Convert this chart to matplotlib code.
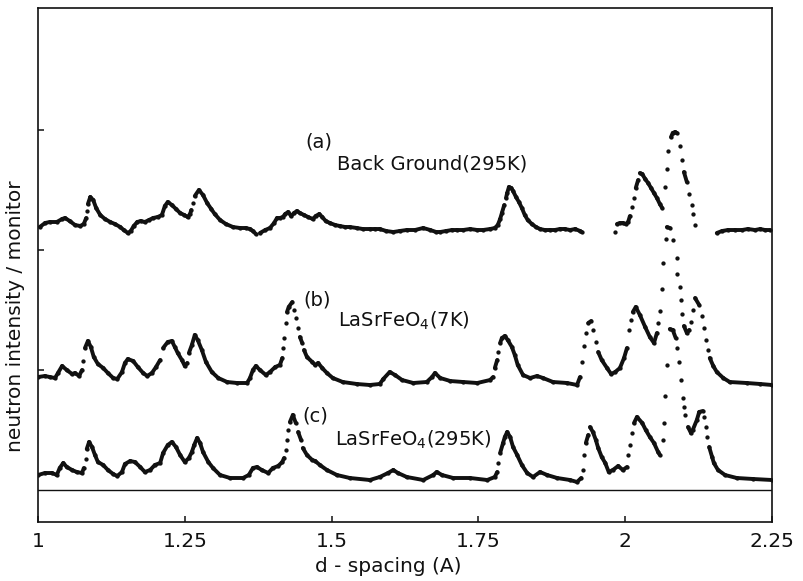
import numpy as np
import matplotlib
matplotlib.use("Agg")
import matplotlib.pyplot as plt
from matplotlib.collections import LineCollection

nan = float("nan")

# ---------------- data (d-spacing in A, intensity in arbitrary units incl. offset) -------------
# (a) Back Ground (295K)  -- NaN marks missing data
d_a = [1.003, 1.012, 1.020, 1.032, 1.041, 1.046, 1.054, 1.063, 1.072, 1.078, 1.082, 1.083, 1.085, 1.089,
       1.094, 1.099, 1.106, 1.114, 1.123, 1.131, 1.140, 1.146, 1.153, 1.158, 1.163, 1.169, 1.175, 1.182,
       1.189, 1.196, 1.204, 1.211, 1.216, 1.221, 1.228, 1.235, 1.242, 1.249, 1.255, 1.259, 1.261, 1.264,
       1.267, 1.274, 1.281, 1.288, 1.295, 1.301, 1.310, 1.320, 1.332, 1.344, 1.354, 1.361, 1.366, 1.371,
       nan,
       1.378, 1.387, 1.395, 1.402, 1.407, 1.412, 1.417, 1.421, 1.426, 1.431, 1.436, 1.441, 1.446, 1.453,
       1.460, 1.468, 1.473, 1.479, 1.484, 1.490, 1.497, 1.506, 1.514, 1.523, 1.531, 1.543, 1.553, 1.565,
       1.574, 1.582, 1.593, 1.605, 1.616, 1.628, 1.642, 1.656, 1.668, 1.678, 1.685, 1.695, 1.705, 1.714,
       1.724, 1.736, 1.748, 1.758, 1.770, 1.778, 1.783, 1.787, 1.790, 1.794, 1.797, 1.799, 1.802, 1.806,
       1.809, 1.814, 1.819, 1.824, 1.829, 1.834, 1.841, 1.848, 1.855, 1.863, 1.872, 1.880, 1.889, 1.897,
       1.906, 1.915, 1.923, 1.926,
       nan,
       1.983, 1.986, 1.991, 1.996, 2.001, 2.005, 2.008, 2.012, 2.015, 2.018, 2.022, 2.025, 2.029, 2.034,
       2.039, 2.044, 2.049, 2.054, 2.059, 2.063, 2.068, 2.071, 2.073, 2.078, 2.081, 2.085, 2.088, 2.093,
       2.097, 2.100, 2.105, 2.109, 2.114, 2.115, 2.119,
       nan,
       2.156, 2.165, 2.175, 2.187, 2.199, 2.209, 2.221, 2.230, 2.238, 2.247]
i_a = [263, 267, 268, 268, 271, 272, 269, 265, 264, 266, 272, 279, 286, 293,
       290, 282, 275, 271, 268, 266, 263, 260, 257, 259, 264, 268, 269, 268,
       270, 272, 273, 275, 284, 288, 285, 281, 277, 275, 273, 276, 280, 287,
       294, 300, 295, 287, 281, 276, 270, 266, 263, 262, 262, 261, 259, 256,
       nan,
       257, 260, 262, 267, 272, 272, 273, 276, 278, 274, 277, 279, 277, 275,
       273, 271, 274, 276, 273, 269, 267, 265, 264, 263, 263, 262, 261, 261,
       261, 261, 259, 258, 259, 260, 260, 262, 260, 258, 258, 259, 260, 260,
       260, 261, 260, 260, 261, 262, 265, 271, 277, 285, 292, 297, 303, 302,
       299, 293, 288, 282, 275, 270, 266, 263, 261, 260, 260, 260, 261, 261,
       260, 261, 259, 258,
       nan,
       258, 266, 267, 267, 266, 268, 274, 283, 292, 302, 310, 317, 316, 311,
       307, 302, 297, 292, 286, 282, 303, 321, 339, 353, 357, 358, 357, 344,
       330, 318, 308, 296, 285, 276, 265,
       nan,
       257, 259, 260, 260, 260, 261, 260, 261, 260, 260]

# (b) LaSrFeO4 (7K)
d_b = [1.000, 1.012, 1.020, 1.029, 1.034, 1.041, 1.049, 1.058, 1.063, 1.070, 1.075, 1.077, 1.080, 1.085,
       1.090, 1.095, 1.102, 1.111, 1.119, 1.128, 1.135, 1.143, 1.148, 1.153, 1.162, 1.170, 1.179, 1.186,
       1.194, 1.201, 1.208, 1.213, 1.221, 1.228, 1.233, 1.238, 1.245, 1.250, 1.254, 1.257, 1.262, 1.267,
       1.272, 1.279, 1.286, 1.296, 1.307, 1.322, 1.339, 1.356, 1.361, 1.366, 1.371, 1.378, 1.388, 1.395,
       1.404, 1.412, 1.416, 1.417, 1.419, 1.422, 1.424, 1.427, 1.433, 1.436, 1.439, 1.443, 1.446, 1.450,
       1.453, 1.458, 1.467, 1.472, 1.477, 1.484, 1.492, 1.502, 1.519, 1.543, 1.565, 1.582, 1.588, 1.599,
       1.608, 1.620, 1.639, 1.662, 1.671, 1.676, 1.685, 1.702, 1.724, 1.748, 1.770, 1.775, 1.778, 1.782,
       1.783, 1.787, 1.790, 1.795, 1.800, 1.807, 1.812, 1.817, 1.826, 1.838, 1.850, 1.860, 1.877, 1.901,
       1.918, 1.923, 1.926, 1.930, 1.933, 1.937, 1.942, 1.945, 1.950, 1.954, 1.960, 1.969, 1.976, 1.983,
       1.991, 1.998, 2.003, 2.006, 2.010, 2.013, 2.018, 2.025, 2.034, 2.042, 2.049, 2.054, 2.056, 2.059,
       2.063, 2.064, 2.070, 2.071, 2.076, 2.081, 2.088, 2.089, 2.093, 2.095, 2.097, 2.100, 2.105, 2.109,
       2.112, 2.115, 2.119, 2.126, 2.131, 2.134, 2.138, 2.141, 2.144, 2.150, 2.156, 2.167, 2.178, 2.207,
       2.230, 2.250]
i_b = [113, 114, 113, 112, 117, 124, 120, 116, 117, 114, 120, 129, 142, 149,
       143, 133, 126, 122, 117, 112, 111, 118, 127, 131, 129, 123, 117, 114,
       117, 123, 130, 142, 148, 149, 143, 137, 130, 124, 127, 137, 145, 155,
       150, 140, 128, 118, 112, 108, 107, 107, 112, 120, 124, 120, 115, 118,
       123, 125, 132, 142, 152, 167, 178, 183, 188, 180, 172, 162, 153, 147,
       140, 133, 128, 125, 127, 122, 117, 112, 108, 106, 105, 106, 111, 118,
       115, 110, 107, 108, 113, 117, 112, 109, 108, 107, 110, 113, 122, 130,
       138, 147, 152, 154, 150, 143, 135, 125, 115, 112, 114, 112, 108, 107,
       105, 113, 128, 144, 157, 167, 169, 160, 148, 138, 130, 122, 116, 118,
       122, 132, 142, 160, 170, 178, 183, 175, 163, 153, 147, 157, 167, 179,
       201, 227, 251, 263, 262, 250, 232, 216, 203, 190, 176, 164, 157, 160,
       168, 180, 192, 185, 174, 162, 150, 140, 132, 124, 118, 112, 108, 107,
       106, 105]

# (c) LaSrFeO4 (295K)
d_c = [1.000, 1.012, 1.024, 1.032, 1.037, 1.043, 1.049, 1.058, 1.066, 1.075, 1.078, 1.082, 1.083, 1.087,
       1.092, 1.097, 1.102, 1.111, 1.119, 1.128, 1.135, 1.143, 1.148, 1.157, 1.165, 1.174, 1.182, 1.191,
       1.199, 1.208, 1.213, 1.221, 1.228, 1.235, 1.242, 1.250, 1.257, 1.262, 1.266, 1.271, 1.276, 1.281,
       1.290, 1.298, 1.310, 1.327, 1.349, 1.359, 1.366, 1.373, 1.381, 1.392, 1.400, 1.409, 1.416, 1.419,
       1.422, 1.424, 1.426, 1.429, 1.434, 1.439, 1.443, 1.448, 1.451, 1.458, 1.467, 1.472, 1.480, 1.492,
       1.509, 1.531, 1.565, 1.582, 1.596, 1.605, 1.613, 1.628, 1.656, 1.673, 1.679, 1.688, 1.707, 1.736,
       1.765, 1.778, 1.782, 1.783, 1.787, 1.792, 1.795, 1.799, 1.804, 1.809, 1.816, 1.824, 1.833, 1.843,
       1.855, 1.867, 1.884, 1.906, 1.918, 1.925, 1.928, 1.930, 1.933, 1.937, 1.940, 1.945, 1.950, 1.954,
       1.960, 1.966, 1.972, 1.979, 1.988, 1.996, 2.003, 2.005, 2.008, 2.012, 2.015, 2.020, 2.029, 2.035,
       2.042, 2.049, 2.056, 2.059, 2.064, 2.066, 2.068, 2.071, 2.076, 2.081, 2.086, 2.088, 2.092, 2.095,
       2.098, 2.100, 2.102, 2.107, 2.112, 2.115, 2.122, 2.126, 2.132, 2.134, 2.138, 2.139, 2.143, 2.148,
       2.151, 2.158, 2.170, 2.190, 2.218, 2.250]
i_c = [15, 17, 17, 15, 22, 27, 23, 20, 18, 17, 22, 31, 41, 48,
       43, 35, 28, 25, 20, 16, 14, 18, 26, 29, 28, 23, 18, 20,
       25, 27, 37, 45, 48, 43, 35, 28, 32, 38, 45, 52, 47, 38,
       28, 22, 15, 12, 12, 15, 22, 23, 20, 17, 22, 24, 28, 32,
       40, 50, 60, 68, 75, 67, 58, 50, 42, 35, 30, 29, 25, 20,
       15, 12, 10, 13, 17, 20, 17, 13, 10, 15, 18, 15, 12, 12,
       10, 13, 18, 27, 37, 47, 53, 58, 53, 43, 35, 25, 17, 13,
       18, 15, 12, 10, 8, 12, 20, 35, 47, 55, 63, 58, 50, 42,
       33, 27, 18, 20, 24, 20, 23, 35, 45, 57, 67, 73, 67, 60,
       53, 47, 38, 35, 50, 67, 94, 125, 161, 160, 152, 142, 128, 110,
       92, 83, 75, 63, 57, 60, 70, 78, 79, 73, 63, 53, 43, 33,
       27, 20, 15, 12, 11, 10]

x_ticks = [1, 1.25, 1.5, 1.75, 2, 2.25]
x_tick_labels = ["1", "1.25", "1.5", "1.75", "2", "2.25"]
y_ticks = [120, 240, 360]

# ---------------- figure ----------------
W, H = 804, 581
fig = plt.figure(figsize=(W / 100, H / 100), dpi=100)
ax = fig.add_axes([38 / W, 1 - 522 / H, 734 / W, 514 / H])
ax.set_xlim(1, 2.25)
ax.set_ylim(-32, 482)

ink = "#111111"


def draw(d, inten):
    d = np.asarray(d, float)
    inten = np.asarray(inten, float)
    ax.plot(d, inten, ls="none", marker="o", ms=3.1, mfc=ink, mec="none", zorder=3)
    pts = ax.transData.transform(np.column_stack([d, inten]))
    segs = []
    for k in range(len(d) - 1):
        p, q = pts[k], pts[k + 1]
        if not (np.all(np.isfinite(p)) and np.all(np.isfinite(q))):
            continue
        dx, dy = abs(q[0] - p[0]), abs(q[1] - p[1])
        if dy <= 2.8 * dx + 2.0:
            segs.append([(d[k], inten[k]), (d[k + 1], inten[k + 1])])
    ax.add_collection(LineCollection(segs, colors=ink, linewidths=2.8,
                                     capstyle="round", joinstyle="round", zorder=3))


draw(d_a, i_a)
draw(d_b, i_b)
draw(d_c, i_c)

ax.axhline(0, color=ink, lw=1.0, zorder=2)

for s in ax.spines.values():
    s.set_linewidth(1.2)
    s.set_color(ink)

ax.set_xticks(x_ticks)
ax.set_xticklabels(x_tick_labels, fontsize=14.5)
ax.set_yticks(y_ticks)
ax.set_yticklabels([])
ax.tick_params(direction="in", length=4, width=1.1, pad=7, colors=ink)


def ftxt(x, y, s, **kw):
    fig.text(x / W, 1 - y / H, s, color=ink, **kw)


fs = 14
ftxt(305, 147, "(a)", ha="left", va="baseline", fontsize=fs)
ftxt(337, 169, "Back Ground(295K)", ha="left", va="baseline", fontsize=fs)
ftxt(303, 305, "(b)", ha="left", va="baseline", fontsize=fs)
ftxt(338, 327, r"LaSrFeO$_4$(7K)", ha="left", va="baseline", fontsize=fs)
ftxt(302, 422, "(c)", ha="left", va="baseline", fontsize=fs)
ftxt(335, 446, r"LaSrFeO$_4$(295K)", ha="left", va="baseline", fontsize=fs)

ftxt(388, 566, "d - spacing (A)", ha="center", va="center", fontsize=14.5)
ftxt(16, 316, "neutron intensity / monitor", ha="center", va="center", rotation=90, fontsize=14.5)

fig.savefig("out.png", dpi=100, facecolor="white")
